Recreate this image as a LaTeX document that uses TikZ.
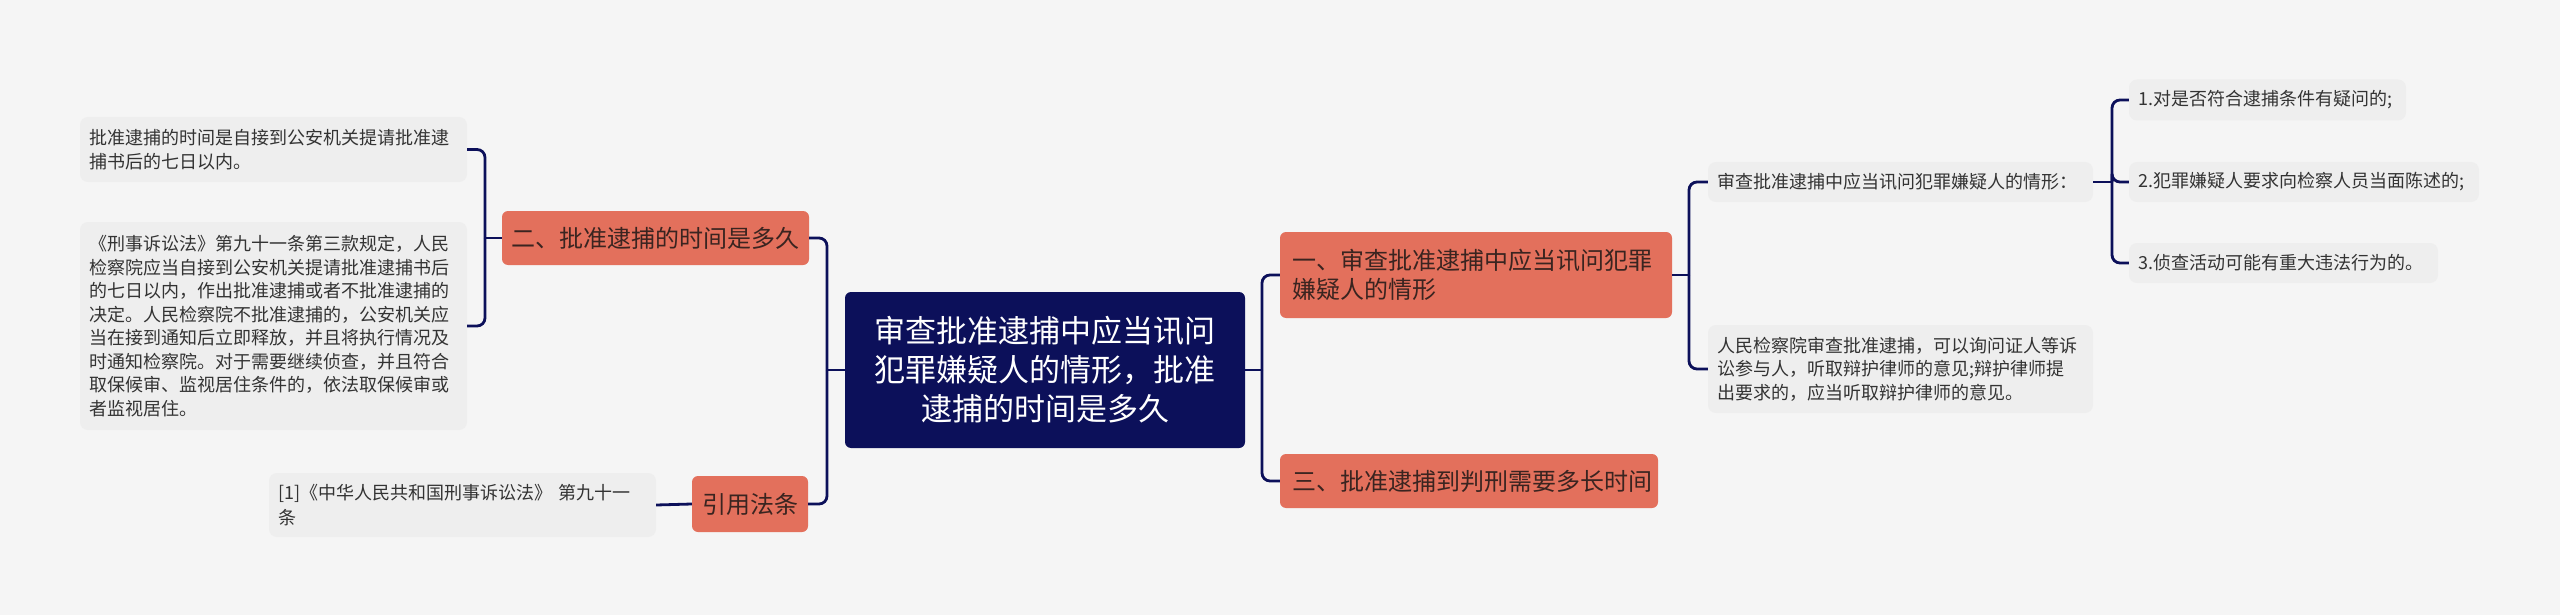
\documentclass[tikz,border=0pt]{standalone}
\usepackage{fontspec}
\setmainfont{Noto Sans CJK SC}
\definecolor{navy}{RGB}{12,16,90}
\definecolor{topicfill}{RGB}{227,112,92}
\definecolor{topictext}{RGB}{58,36,32}
\definecolor{leaffill}{RGB}{238,238,238}
\definecolor{leaftext}{RGB}{51,51,51}
\definecolor{bgc}{RGB}{245,245,245}
\begin{document}
\begin{tikzpicture}[x=1pt,y=-1pt,
  conn/.style={draw=navy,line width=2.8pt,rounded corners=8pt},
  root/.style={fill=navy,text=white,rounded corners=6pt,align=center,
    font=\fontsize{31}{39}\selectfont,inner sep=0pt},
  topic/.style={fill=topicfill,text=topictext,rounded corners=6pt,
    font=\fontsize{24}{29}\selectfont,inner sep=0pt},
  leaf/.style={fill=leaffill,text=leaftext,rounded corners=8pt,
    font=\fontsize{18}{23.5}\selectfont,align=left,inner xsep=9pt,inner ysep=0pt}]
\useasboundingbox (0,0) rectangle (2560,615);
\fill[bgc] (0,0) rectangle (2560,615);

% root
\node[root,minimum width=400pt,minimum height=156pt] (c) at (1045,370)
  {审查批准逮捕中应当讯问\\犯罪嫌疑人的情形，批准\\逮捕的时间是多久};

% topics
\node[topic,minimum width=307pt,minimum height=54pt] (t2) at (655.5,238)
  {二、批准逮捕的时间是多久};
\node[topic,minimum width=116pt,minimum height=56pt] (t4) at (750,504)
  {引用法条};
\node[topic,text width=368pt,inner xsep=12pt,minimum height=86pt,align=left] (t1) at (1476,275)
  {一、审查批准逮捕中应当讯问犯罪\\嫌疑人的情形};
\node[topic,text width=354pt,inner xsep=12pt,minimum height=54pt,align=left] (t3) at (1469,481)
  {三、批准逮捕到判刑需要多长时间};

% left leaves
\node[leaf,text width=369pt,minimum height=65pt] (l1) at (273.5,149.5)
  {批准逮捕的时间是自接到公安机关提请批准逮\\捕书后的七日以内。};
\node[leaf,text width=369pt,minimum height=208pt] (l2) at (273.5,326)
  {《刑事诉讼法》第九十一条第三款规定，人民\\检察院应当自接到公安机关提请批准逮捕书后\\的七日以内，作出批准逮捕或者不批准逮捕的\\决定。人民检察院不批准逮捕的，公安机关应\\当在接到通知后立即释放，并且将执行情况及\\时通知检察院。对于需要继续侦查，并且符合\\取保候审、监视居住条件的，依法取保候审或\\者监视居住。};
\node[leaf,text width=369pt,minimum height=64pt,font=\fontsize{18}{25}\selectfont] (ref) at (462.5,505)
  {[1]《中华人民共和国刑事诉讼法》 第九十一\\条};

% right leaves
\node[leaf,text width=367pt,minimum height=40pt] (r0) at (1900.5,182)
  {审查批准逮捕中应当讯问犯罪嫌疑人的情形：};
\node[leaf,text width=367pt,minimum height=88pt] (r1) at (1900.5,369)
  {人民检察院审查批准逮捕，可以询问证人等诉\\讼参与人，听取辩护律师的意见;辩护律师提\\出要求的，应当听取辩护律师的意见。};
\node[leaf,text width=259pt,minimum height=41pt] (i1) at (2267.5,100)
  {1.对是否符合逮捕条件有疑问的;};
\node[leaf,text width=332pt,minimum height=40pt] (i2) at (2304,182)
  {2.犯罪嫌疑人要求向检察人员当面陈述的;};
\node[leaf,text width=291pt,minimum height=40pt] (i3) at (2283.5,263)
  {3.侦查活动可能有重大违法行为的。};

% connector junctions
\coordinate (bL) at (827,370);
\coordinate (bR) at (1262,370);
\coordinate (b2) at (485,238);
\coordinate (b1) at (1689,275);
\coordinate (b0) at (2112,182);

\draw[conn] (c.west) -- (bL);
\draw[conn] (bL) |- (t2.east);
\draw[conn] (bL) |- (t4.east);
\draw[conn] (c.east) -- (bR);
\draw[conn] (bR) |- (t1.west);
\draw[conn] (bR) |- (t3.west);

\draw[conn] (t2.west) -- (b2);
\draw[conn] (b2) |- (l1.east);
\draw[conn] (b2) |- (l2.east);
\draw[conn] (t4.west) -- (ref.east);

\draw[conn] (t1.east) -- (b1);
\draw[conn] (b1) |- (r0.west);
\draw[conn] (b1) |- (r1.west);

\draw[conn] (r0.east) -- (b0);
\draw[conn] (b0) |- (i1.west);
\draw[conn] (b0) |- (i2.west);
\draw[conn] (b0) |- (i3.west);
\end{tikzpicture}
\end{document}
